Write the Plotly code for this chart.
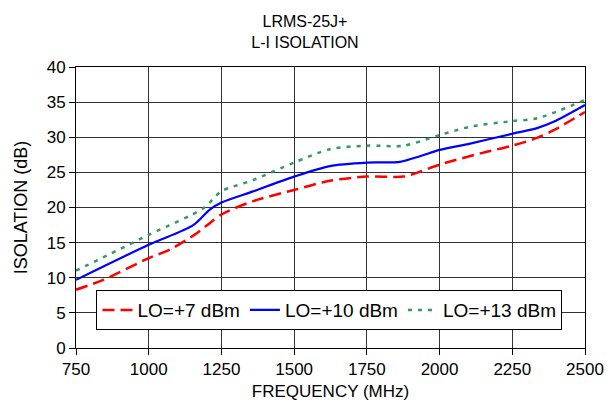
import plotly.graph_objects as go

freq = [750, 844, 1000, 1072, 1164, 1250, 1359, 1500, 1623, 1750, 1876, 1933, 2000, 2140, 2250, 2335, 2392, 2500]
lo7 = [8.3, 9.7, 12.8, 14.0, 16.3, 19.0, 20.9, 22.5, 23.8, 24.4, 24.4, 25.1, 26.1, 27.7, 28.8, 29.9, 31.0, 33.6]

freq10 = [750, 1000, 1153, 1210, 1250, 1359, 1500, 1623, 1750, 1864, 1933, 2000, 2105, 2250, 2335, 2392, 2500]
lo10 = [9.7, 14.7, 17.5, 19.7, 20.7, 22.3, 24.4, 25.9, 26.4, 26.5, 27.3, 28.2, 29.1, 30.5, 31.3, 32.2, 34.6]

freq13 = [750, 1000, 1188, 1250, 1359, 1500, 1623, 1750, 1876, 2000, 2105, 2250, 2335, 2500]
lo13 = [11.0, 16.1, 19.9, 22.3, 23.9, 26.4, 28.3, 28.8, 28.8, 30.3, 31.5, 32.3, 32.7, 35.3]

x_ticks = [750, 1000, 1250, 1500, 1750, 2000, 2250, 2500]
y_ticks = [0, 5, 10, 15, 20, 25, 30, 35, 40]

font = "Liberation Sans, Arial, sans-serif"
fig = go.Figure()
fig.add_trace(go.Scatter(x=freq, y=lo7, mode="lines", name="LO=+7 dBm",
                         line=dict(color="#FF0000", width=2.5, dash="12px,6px", shape="spline", smoothing=0.8)))
fig.add_trace(go.Scatter(x=freq10, y=lo10, mode="lines", name="LO=+10 dBm",
                         line=dict(color="#0000FF", width=2.2, shape="spline", smoothing=0.8)))
fig.add_trace(go.Scatter(x=freq13, y=lo13, mode="lines", name="LO=+13 dBm",
                         line=dict(color="#339966", width=2.5, dash="4px,6px", shape="spline", smoothing=0.8)))

fig.update_layout(
    width=610, height=416,
    margin=dict(l=76, r=25, t=67, b=68),
    paper_bgcolor="white", plot_bgcolor="white",
    font=dict(family=font, size=17, color="black"),
    title=dict(text="LRMS-25J+<br>L-I ISOLATION", x=0.5, xanchor="center", y=0.935, yanchor="middle",
               font=dict(family=font, size=16, color="black")),
    showlegend=True,
    legend=dict(orientation="h", x=0.498, xanchor="center", y=0.135, yanchor="middle",
                bgcolor="white", bordercolor="black", borderwidth=1,
                font=dict(family=font, size=19), tracegroupgap=0, itemwidth=30),
    xaxis=dict(range=[750, 2500], tickvals=x_ticks, ticks="outside", ticklen=6, tickcolor="black",
               showgrid=True, gridcolor="#333333", gridwidth=1, automargin=False,
               showline=True, linecolor="black", mirror=True, zeroline=False,
               title=dict(text="FREQUENCY (MHz)", standoff=6, font=dict(size=17)),
               tickfont=dict(size=17)),
    yaxis=dict(range=[0, 40], tickvals=y_ticks, ticks="outside", ticklen=6, tickcolor="black",
               showgrid=True, gridcolor="#333333", gridwidth=1, automargin=False,
               showline=True, linecolor="black", mirror=True, zeroline=False,
               title=dict(text="ISOLATION (dB)", standoff=14, font=dict(size=18)),
               tickfont=dict(size=17)),
)
fig.write_html("out.html", config={"displayModeBar": False},
               post_script="document.body.style.margin='0px';")
